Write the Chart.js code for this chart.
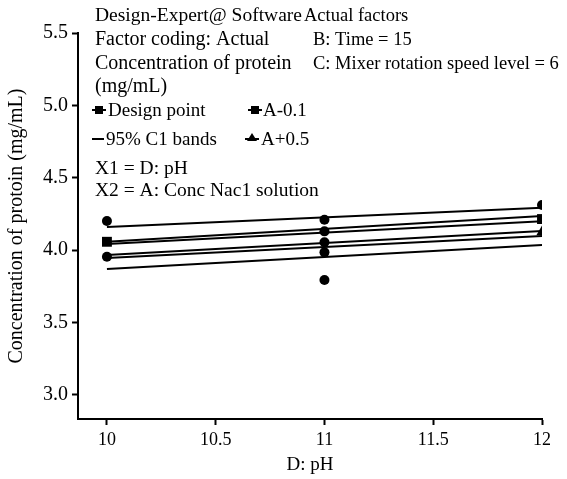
<!DOCTYPE html>
<html>
<head>
<meta charset="utf-8">
<script src="https://cdn.jsdelivr.net/npm/chart.js@4/dist/chart.umd.min.js"></script>
<style>
  html, body { margin: 0; padding: 0; background: #fff; }
  #wrap { width: 567px; height: 479px; }
</style>
</head>
<body>
<div id="wrap"><canvas id="c" width="567" height="479"></canvas></div>
<script>
// pH levels on the x axis
const phTicks = [10, 10.5, 11, 11.5, 12];
const proteinTicks = [3.0, 3.5, 4.0, 4.5, 5.0, 5.5];
const lineEnds = [10, 12];

// fitted lines and 95% CI bands (values at pH 10 and pH 12)
const bandTopA = [4.160, 4.293];
const meanANeg = [4.058, 4.236];
const bandMidA = [4.043, 4.200];
const meanAPos = [3.967, 4.132];
const bandMidB = [3.946, 4.098];
const bandLowB = [3.870, 4.036];

// design points
const designPh = [10, 10, 11, 11, 11, 11, 11, 12];
const designProtein = [4.202, 3.955, 4.210, 4.130, 4.055, 3.985, 3.794, 4.312];

// level markers
const squarePh = [10, 12];
const squareProtein = [4.058, 4.215];
const trianglePh = [12];
const triangleProtein = [4.126];

const SERIF = "'Liberation Serif', 'Times New Roman', serif";

function pts(xs, ys) { return xs.map((x, i) => ({ x: x, y: ys[i] })); }
function lineSet(ys) {
  return {
    type: 'line', data: pts(lineEnds, ys), borderColor: '#000', borderWidth: 2,
    pointRadius: 0, fill: false, tension: 0
  };
}

// header notes, legend and factor text drawn inside the plot area
const notesPlugin = {
  id: 'notes',
  afterDraw(chart) {
    const ctx = chart.ctx;
    ctx.save();
    ctx.fillStyle = '#000';
    ctx.strokeStyle = '#000';
    ctx.textBaseline = 'alphabetic';
    ctx.textAlign = 'left';
    const rows = [
      ['Design-Expert@ Software', 95, 21, 19.5], ['Actual factors', 304, 21, 18.5],
      ['Factor coding: Actual', 95, 45, 20], ['B: Time = 15', 313, 45, 18.5],
      ['Concentration of protein', 95, 69, 20], ['C: Mixer rotation speed level = 6', 313, 69, 18.5],
      ['(mg/mL)', 95, 92, 20],
      ['Design point', 108, 116, 19], ['A-0.1', 263, 116, 19],
      ['95% C1 bands', 106, 145, 19], ['A+0.5', 261, 145, 19],
      ['X1 = D: pH', 95, 174, 19.5],
      ['X2 = A: Conc Nac1 solution', 95, 196, 19.5]
    ];
    rows.forEach(r => {
      ctx.font = r[3] + 'px ' + SERIF;
      ctx.fillText(r[0], r[1], r[2]);
    });

    ctx.lineWidth = 2;
    // line with square marker
    [[92, 110], [248, 110]].forEach(([x, y]) => {
      ctx.beginPath(); ctx.moveTo(x, y); ctx.lineTo(x + 14, y); ctx.stroke();
      ctx.fillRect(x + 3, y - 4, 8, 8);
    });
    // plain band line
    ctx.beginPath(); ctx.moveTo(92, 139); ctx.lineTo(104, 139); ctx.stroke();
    // line with triangle marker
    ctx.beginPath(); ctx.moveTo(245, 139); ctx.lineTo(259, 139); ctx.stroke();
    ctx.beginPath();
    ctx.moveTo(252, 133); ctx.lineTo(257, 141); ctx.lineTo(247, 141); ctx.closePath(); ctx.fill();
    ctx.restore();
  }
};

new Chart(document.getElementById('c'), {
  type: 'scatter',
  data: {
    datasets: [
      { data: pts(designPh, designProtein), pointStyle: 'circle', pointRadius: 5,
        backgroundColor: '#000', borderColor: '#000', borderWidth: 0 },
      { data: pts(squarePh, squareProtein), pointStyle: 'rect', pointRadius: 7,
        backgroundColor: '#000', borderColor: '#000', borderWidth: 0 },
      { data: pts(trianglePh, triangleProtein), pointStyle: 'triangle', pointRadius: 6.5,
        backgroundColor: '#000', borderColor: '#000', borderWidth: 0 },
      lineSet(bandTopA), lineSet(meanANeg), lineSet(bandMidA),
      lineSet(meanAPos), lineSet(bandMidB), lineSet(bandLowB)
    ]
  },
  options: {
    responsive: false,
    animation: false,
    layout: { padding: { top: 33, right: 25, left: 0, bottom: 0 } },
    plugins: { legend: { display: false }, tooltip: { enabled: false } },
    scales: {
      x: {
        type: 'linear', min: 9.867, max: 12,
        afterBuildTicks: s => { s.ticks = phTicks.map(v => ({ value: v })); },
        afterFit: s => { s.height = 60; },
        ticks: { color: '#000', font: { family: SERIF, size: 18 }, padding: 4,
                 callback: v => String(v) },
        grid: { drawOnChartArea: false, drawTicks: true, tickLength: 6,
                tickColor: '#000', tickWidth: 2 },
        border: { color: '#000', width: 2 },
        title: { display: true, text: 'D: pH', color: '#000',
                 font: { family: SERIF, size: 19 }, padding: { top: 0, bottom: 3 } }
      },
      y: {
        type: 'linear', min: 2.834, max: 5.5,
        afterBuildTicks: s => { s.ticks = proteinTicks.map(v => ({ value: v })); },
        afterFit: s => { s.width = 78; },
        ticks: { color: '#000', font: { family: SERIF, size: 20 }, padding: 4,
                 callback: v => Number(v).toFixed(1) },
        grid: { drawOnChartArea: false, drawTicks: true, tickLength: 6,
                tickColor: '#000', tickWidth: 2 },
        border: { color: '#000', width: 2 },
        title: { display: true, text: 'Concentration of protoin (mg/mL)', color: '#000',
                 font: { family: SERIF, size: 20 }, padding: { top: 5, bottom: 0 } }
      }
    }
  },
  plugins: [notesPlugin]
});
</script>
</body>
</html>
